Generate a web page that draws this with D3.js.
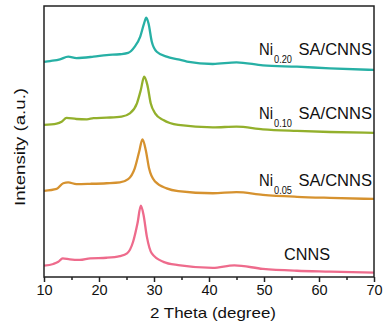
<!DOCTYPE html>
<html>
<head>
<meta charset="utf-8">
<script src="https://cdn.jsdelivr.net/npm/d3@7"></script>
<style>
  html, body { margin: 0; padding: 0; background: #fff; }
  svg { display: block; font-family: "Liberation Sans", Arial, sans-serif; }
</style>
</head>
<body>
<svg id="chart" width="386" height="332"></svg>
<script>
// XRD patterns (2θ in degrees, intensity in arbitrary units, stacked with offsets)
const thetaCNNS = [10, 11.7, 12.6, 13.4, 14.7, 16.5, 18.4, 21.4, 23.8, 25.1, 26.2, 27.0, 27.6, 28.1, 28.7, 29.6, 31.7, 34.4, 40.7, 44.6, 49.8, 56, 62, 70];
const intCNNS   = [4.2, 4.8, 5.6, 6.9, 6.5, 6.3, 6.9, 7.1, 7.7, 8.7, 13.0, 19.8, 26.3, 22.9, 14.9, 8.7, 5.6, 4.4, 3.4, 4.3, 3.0, 2.3, 2.0, 1.6];

const thetaNi005 = [10, 12.3, 13.5, 14.4, 15.9, 18.4, 21.4, 23.8, 25.3, 26.5, 27.3, 27.9, 28.5, 29.1, 30.2, 32.3, 34.4, 40.7, 45, 49.8, 56, 62, 70];
const intNi005   = [31.8, 32.5, 34.6, 34.9, 34.3, 34.4, 34.6, 34.9, 36.1, 40.1, 46.2, 50.8, 46.9, 40.1, 35.2, 32.7, 31.7, 30.9, 31.3, 30.3, 29.6, 29.2, 28.8];

const thetaNi010 = [10, 12.3, 13.2, 14.1, 15.9, 17.8, 19.0, 21.4, 24.1, 25.6, 26.9, 27.6, 28.2, 28.8, 29.4, 30.2, 31.7, 34.4, 40.7, 45, 49.8, 56, 62, 70];
const intNi010   = [56.1, 56.6, 57.3, 58.7, 58.3, 58.2, 58.6, 58.8, 59.2, 60.4, 64.1, 69.0, 73.9, 70.8, 64.1, 60.4, 57.9, 56.1, 55.2, 55.5, 54.5, 53.9, 53.5, 53.2];

const thetaNi020 = [10, 11.1, 12.9, 14.4, 15.9, 19.0, 21.4, 23.8, 25.3, 26.5, 27.5, 28.2, 28.6, 29.0, 29.6, 30.5, 32.3, 34.4, 36, 40.7, 45, 49.8, 56, 62, 70];
const intNi020   = [79.4, 79.7, 80.3, 81.3, 80.8, 81.3, 81.9, 82.2, 82.7, 85.0, 88.7, 93.6, 95.7, 93.6, 86.8, 83.1, 81.3, 80.3, 79.5, 78.6, 79.2, 78.1, 77.6, 77.0, 76.4];

const seriesNames  = ["CNNS", "Ni0.05 SA/CNNS", "Ni0.10 SA/CNNS", "Ni0.20 SA/CNNS"];
const seriesColors = ["#ee6b8c", "#d6922f", "#93b02c", "#27b0a5"];

const xTicks = [10, 20, 30, 40, 50, 60, 70];
const xMinorTicks = [15, 25, 35, 45, 55, 65];

const series = [
  { name: seriesNames[0], color: seriesColors[0], theta: thetaCNNS,  y: intCNNS },
  { name: seriesNames[1], color: seriesColors[1], theta: thetaNi005, y: intNi005 },
  { name: seriesNames[2], color: seriesColors[2], theta: thetaNi010, y: intNi010 },
  { name: seriesNames[3], color: seriesColors[3], theta: thetaNi020, y: intNi020 }
];

const margin = { left: 44, right: 12, top: 6, bottom: 55 };
const W = 386, H = 332;
const svg = d3.select("#chart");

const x = d3.scaleLinear().domain([10, 70]).range([margin.left, W - margin.right]);
const y = d3.scaleLinear().domain([0, 100]).range([H - margin.bottom, margin.top]);

svg.append("defs").append("clipPath").attr("id", "plotClip")
  .append("rect")
  .attr("x", x(10)).attr("y", y(100))
  .attr("width", x(70) - x(10)).attr("height", y(0) - y(100));

const line = d3.line()
  .x(d => x(d[0]))
  .y(d => y(d[1]))
  .curve(d3.curveMonotoneX);

const plot = svg.append("g").attr("clip-path", "url(#plotClip)");
series.forEach(s => {
  plot.append("path")
    .datum(s.theta.map((t, i) => [t, s.y[i]]))
    .attr("fill", "none")
    .attr("stroke", s.color)
    .attr("stroke-width", 2.3)
    .attr("stroke-linejoin", "round")
    .attr("d", line);
});

// frame
svg.append("rect")
  .attr("x", x(10)).attr("y", y(100))
  .attr("width", x(70) - x(10)).attr("height", y(0) - y(100))
  .attr("fill", "none").attr("stroke", "#222").attr("stroke-width", 1.5);

// bottom axis
const xAxis = d3.axisBottom(x).tickValues(xTicks).tickSize(5).tickPadding(3).tickFormat(d3.format("d"));
const gx = svg.append("g").attr("transform", `translate(0,${y(0)})`).call(xAxis);
gx.select(".domain").remove();
gx.selectAll(".tick line").attr("stroke", "#222").attr("stroke-width", 1.5);
gx.selectAll(".tick text").attr("font-size", 14.5).attr("fill", "#111")
  .attr("font-family", "'Liberation Sans', Arial, sans-serif");

const gxMinor = svg.append("g").attr("transform", `translate(0,${y(0)})`)
  .call(d3.axisBottom(x).tickValues(xMinorTicks).tickSize(3).tickFormat(""));
gxMinor.select(".domain").remove();
gxMinor.selectAll(".tick line").attr("stroke", "#222").attr("stroke-width", 1.5);

// axis titles
svg.append("text")
  .attr("x", 213).attr("y", 318)
  .attr("text-anchor", "middle")
  .attr("font-size", 15).attr("fill", "#111")
  .attr("textLength", 126).attr("lengthAdjust", "spacingAndGlyphs")
  .text("2 Theta (degree)");

svg.append("text")
  .attr("transform", "translate(25,147) rotate(-90)")
  .attr("text-anchor", "middle")
  .attr("font-size", 15).attr("fill", "#111")
  .attr("textLength", 118).attr("lengthAdjust", "spacingAndGlyphs")
  .text("Intensity (a.u.)");

// series labels: "Ni" + subscript content + "SA/CNNS"
const labelSubs = [null, "0.05", "0.10", "0.20"];
const labelBaselines = [259.5, 186, 119, 55];
labelSubs.forEach((sub, i) => {
  const g = svg.append("g").attr("fill", "#111");
  const base = labelBaselines[i];
  if (sub === null) {
    g.append("text").attr("x", 284).attr("y", base)
      .attr("font-size", 16)
      .attr("textLength", 46).attr("lengthAdjust", "spacingAndGlyphs")
      .text(seriesNames[i]);
  } else {
    g.append("text").attr("x", 259).attr("y", base)
      .attr("font-size", 16)
      .attr("textLength", 14).attr("lengthAdjust", "spacingAndGlyphs")
      .text("Ni");
    g.append("text").attr("x", 274).attr("y", base + 8)
      .attr("font-size", 10)
      .attr("textLength", 18).attr("lengthAdjust", "spacingAndGlyphs")
      .text(sub);
    g.append("text").attr("x", 298.5).attr("y", base)
      .attr("font-size", 16)
      .attr("textLength", 73.5).attr("lengthAdjust", "spacingAndGlyphs")
      .text("SA/CNNS");
  }
});
</script>
</body>
</html>
